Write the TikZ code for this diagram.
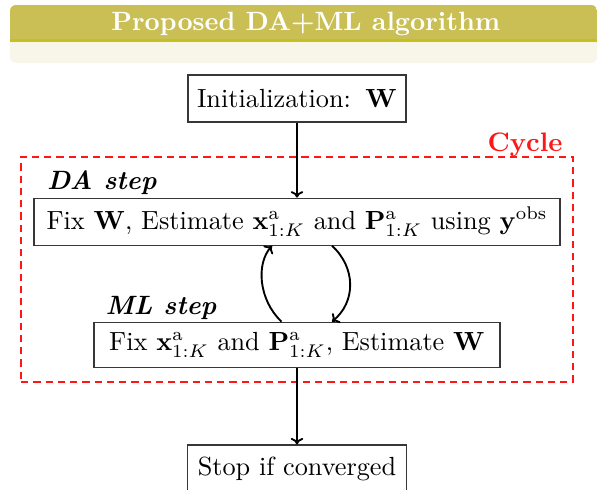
\RequirePackage{fix-cm}
\documentclass[tikz,border=0pt]{standalone}
\usepackage{amsmath}
\usetikzlibrary{arrows.meta}
% one drawing unit = 0.4pt
\def\pxu{0.4pt}
\definecolor{headolive}{RGB}{201,191,85}
\definecolor{headcream}{RGB}{248,246,232}
\definecolor{headline}{RGB}{196,192,32}
\definecolor{boxline}{RGB}{55,55,55}
\definecolor{cyclered}{RGB}{255,22,22}
\tikzset{
  stepbox/.style={draw=boxline, line width=0.45pt, fill=white, inner sep=0pt,
    minimum height=47*\pxu, font=\fontsize{10.5}{12.6}\selectfont},
  flow/.style={-{To[length=2.6pt,width=5pt]}, line width=0.75pt},
  cyclebox/.style={draw=cyclered, line width=0.85pt, dash pattern=on 2.9pt off 2pt,
    inner sep=0pt, minimum width=552*\pxu, minimum height=225*\pxu},
  steplabel/.style={anchor=base west, inner sep=0pt,
    font=\fontsize{10.6}{12.7}\selectfont\bfseries\itshape},
}
\begin{document}
\begin{tikzpicture}[x=0.4pt, y=-0.4pt]
  \useasboundingbox (0,0) rectangle (598,490);

  % block header
  \fill[headcream, rounded corners=6*\pxu] (10,5) rectangle (597,63);
  \begin{scope}
    \clip[rounded corners=6*\pxu] (10,5) rectangle (597,63);
    \fill[headolive] (10,5) rectangle (597,40);
    \fill[headline] (10,39.5) rectangle (597,42);
  \end{scope}
  \node[anchor=base, text=white, inner sep=0pt,
    font=\fontsize{10.56}{12.6}\selectfont\bfseries]
    (title) at (305.8,30.5) {Proposed DA+ML algorithm};

  % cycle frame
  \node[cyclebox] (cycle) at (297,269.5) {};
  \node[anchor=base east, inner sep=0pt, text=cyclered,
    font=\fontsize{10.7}{12.8}\selectfont\bfseries]
    (cyclelabel) at (563,151.5) {Cycle};

  % steps
  \node[stepbox, minimum width=218*\pxu] (init) at (297,98.5)
    {Initialization:\hspace{0.55em}$\mathbf{W}$};
  \node[stepbox, minimum width=526*\pxu, minimum height=47*\pxu] (da) at (297,221.7)
    {Fix $\mathbf{W}$, Estimate $\mathbf{x}^{\mathrm{a}}_{1:K}$ and
     $\mathbf{P}^{\mathrm{a}}_{1:K}$ using $\mathbf{y}^{\mathrm{obs}}$};
  \node[stepbox, minimum width=406*\pxu, minimum height=45.5*\pxu] (ml) at (297,345)
    {Fix $\mathbf{x}^{\mathrm{a}}_{1:K}$ and $\mathbf{P}^{\mathrm{a}}_{1:K}$,
     Estimate $\mathbf{W}$};
  \node[stepbox, minimum width=219*\pxu] (stop) at (297,468.5)
    {Stop if converged};

  \node[steplabel] (dalabel) at (46.7,189.5) {DA step};
  \node[steplabel] (mllabel) at (105,315) {ML step};

  % connectors
  \draw[flow] (init.south) -- (da.north);
  \draw[flow] (ml.south) -- (stop.north);
  \draw[flow] ([xshift=-15.5*\pxu]ml.north)
    .. controls +(-23,-22) and +(-16,18) .. ([xshift=-25*\pxu]da.south);
  \draw[flow] ([xshift=35*\pxu]da.south)
    .. controls +(24,22) and +(24,-20) .. ([xshift=35*\pxu]ml.north);
\end{tikzpicture}
\end{document}
